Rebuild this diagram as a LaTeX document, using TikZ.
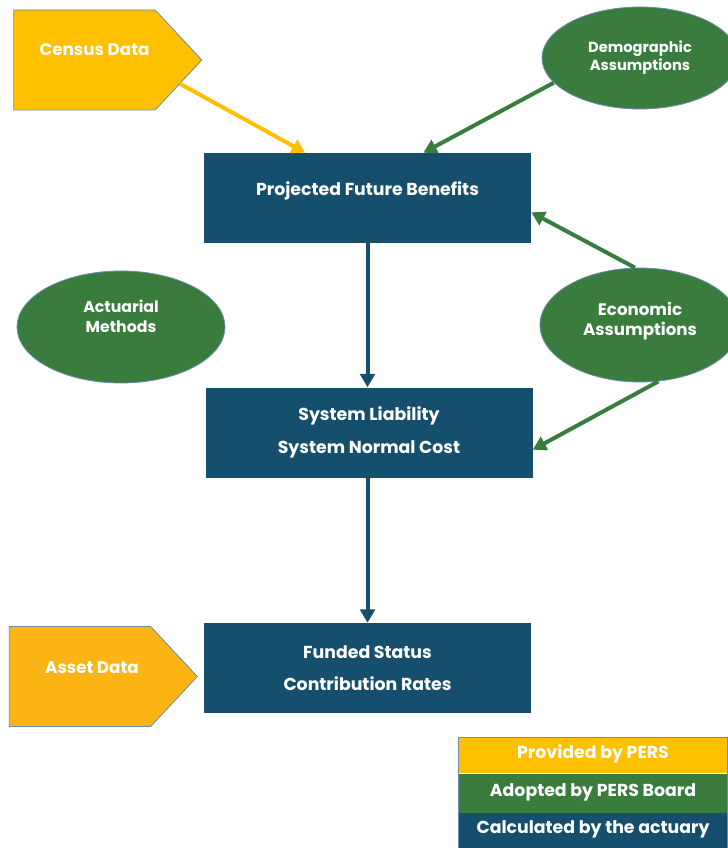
\documentclass[tikz,border=0pt]{standalone}
\usepackage{fontspec}
\setmainfont{Poppins}
\usetikzlibrary{arrows.meta,shapes.geometric,shapes.symbols}
\definecolor{persyellow}{HTML}{FFC000}
\definecolor{persorange}{HTML}{FDB515}
\definecolor{persgreen}{HTML}{3A7C3E}
\definecolor{persblue}{HTML}{154F6D}
\definecolor{persedge}{HTML}{6A8DAD}
\def\px{0.75pt}
% text lifted off the node centre, taking no height
\newcommand\lift[2]{\raisebox{#1}[0pt][0pt]{\begin{tabular}{@{}c@{}}#2\end{tabular}}}
\begin{document}
\begin{tikzpicture}[x=\px,y=-\px,
	txt/.style={text=white,font=\bfseries\fontsize{#1}{16}\selectfont,align=center},
	txt/.default=13,
	calcbox/.style={txt,fill=persblue,minimum width=327*\px,minimum height=90*\px,inner sep=0pt},
	datain/.style={txt=12.6,shape=signal,signal to=east,draw=persedge,line width=0.6pt,
		minimum width=188*\px,minimum height=100*\px,signal pointer angle=94,inner sep=0pt},
	adopted/.style={ellipse,fill=persgreen,draw=persedge,line width=0.6pt,inner sep=0pt},
	legendrow/.style={txt=13,minimum width=268*\px,inner sep=0pt},
	flow/.style={line width=3pt,-{Triangle[length=10pt,width=11pt]}}
]
	\useasboundingbox (0,0) rectangle (727,848);

	% inputs
	\node[datain,fill=persyellow] (census) at (84.5,60) {\hspace*{15pt}\lift{3.5pt}{Census Data}};
	\node[datain,fill=persorange] (asset) at (80,676.5) {\hspace*{18pt}\lift{2.5pt}{Asset Data}};

	% assumptions and methods
	\node[adopted,txt=11,minimum width=196*\px,minimum height=102*\px] (demo) at (640,58) {\lift{-2.5pt}{Demographic\\[-2.5pt]Assumptions}};
	\node[adopted,txt=11.8,minimum width=208*\px,minimum height=112*\px] (methods) at (121,327) {\lift{3.5pt}{Actuarial\\[-1pt]Methods}};
	\node[adopted,txt=12.5,minimum width=200*\px,minimum height=114*\px] (econ) at (640,325) {\lift{0pt}{Economic\\[-1pt]Assumptions}};

	% calculations
	\node[calcbox] (pfb) at (367.5,198) {\lift{2pt}{Projected Future Benefits}};
	\node[calcbox] (sl) at (369,432.5) {System Liability\\[9pt]System Normal Cost};
	\node[calcbox] (fs) at (367.5,668) {Funded Status\\[8pt]Contribution Rates};

	% legend
	\node[legendrow,fill=persyellow,minimum height=35*\px] (prov) at (593,755.5) {\lift{-2pt}{Provided by PERS}};
	\node[legendrow,fill=persgreen,minimum height=39*\px,anchor=north] (adop) at (prov.south) {\lift{-2.5pt}{Adopted by PERS Board}};
	\node[legendrow,fill=persblue,minimum height=36*\px,anchor=north] (calc) at (adop.south) {\lift{-1.5pt}{Calculated by the actuary}};
	\draw[persedge,line width=0.5pt] (prov.north west) rectangle (calc.south east);

	% arrows
	\draw[flow,persyellow] (census.-14) -- (pfb.144);
	\draw[flow,persgreen] (demo.196) -- (pfb.39);
	\draw[flow,persgreen] (econ.95) -- (pfb.-5);
	\draw[flow,persgreen] (econ.-72) -- (sl.-6);
	\draw[flow,persblue] (pfb.south) -- (pfb.south |- sl.north);
	\draw[flow,persblue] (sl.south -| pfb.south) -- (fs.north);

\end{tikzpicture}
\end{document}
